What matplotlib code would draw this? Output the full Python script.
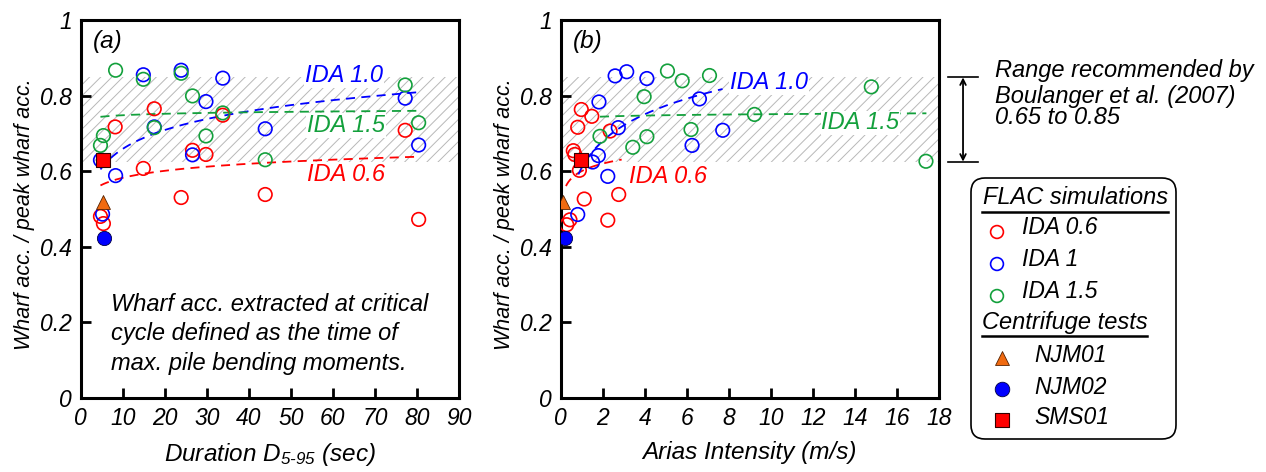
import numpy as np
import matplotlib
matplotlib.use("Agg")
import matplotlib.pyplot as plt
from matplotlib.patches import FancyBboxPatch

plt.rcParams['font.family'] = ['Liberation Sans', 'DejaVu Sans']
plt.rcParams['font.style'] = 'italic'
plt.rcParams['mathtext.fontset'] = 'custom'
plt.rcParams['mathtext.rm'] = 'Liberation Sans:italic'
plt.rcParams['mathtext.it'] = 'Liberation Sans:italic'
plt.rcParams['mathtext.default'] = 'it'
plt.rcParams['hatch.linewidth'] = 0.7
plt.rcParams['hatch.color'] = '#b8b8b8'

RED = '#ff0000'
BLUE = '#0000ff'
GREEN = '#13a03c'
ORANGE = '#f06a10'

# ---- Duration D5-95 (sec) vs wharf acc. ratio, FLAC simulations ----
dur_ida06 = [8.2, 17.5, 26.6, 29.8, 33.8, 14.9, 23.9, 43.9, 77.2, 80.4, 4.7, 5.4]
acc_dur_ida06 = [0.717, 0.765, 0.655, 0.644, 0.748, 0.607, 0.530, 0.538, 0.708, 0.472, 0.480, 0.461]
dur_ida10 = [14.9, 23.9, 33.8, 29.8, 17.5, 43.9, 77.2, 80.4, 26.6, 8.3, 4.7, 5.2]
acc_dur_ida10 = [0.855, 0.867, 0.846, 0.784, 0.717, 0.712, 0.793, 0.669, 0.643, 0.588, 0.629, 0.486]
dur_ida15 = [8.3, 14.9, 23.9, 26.6, 17.5, 33.8, 29.8, 43.9, 77.2, 80.4, 5.4, 4.7]
acc_dur_ida15 = [0.867, 0.843, 0.859, 0.799, 0.715, 0.754, 0.693, 0.630, 0.828, 0.728, 0.694, 0.668]

# ---- Arias intensity (m/s) vs wharf acc. ratio, FLAC simulations ----
ia_ida06 = [0.98, 1.48, 0.81, 2.35, 0.60, 0.67, 0.89, 1.12, 2.76, 2.24, 0.44, 0.29]
acc_ia_ida06 = [0.763, 0.745, 0.716, 0.706, 0.654, 0.644, 0.602, 0.526, 0.538, 0.470, 0.471, 0.458]
ia_ida10 = [2.59, 3.14, 4.10, 1.82, 6.60, 7.71, 2.74, 6.25, 1.79, 1.52, 2.24, 0.81]
acc_ia_ida10 = [0.852, 0.863, 0.845, 0.783, 0.791, 0.708, 0.715, 0.668, 0.641, 0.624, 0.586, 0.485]
ia_ida15 = [5.08, 5.78, 7.08, 3.97, 14.78, 9.22, 1.87, 4.10, 6.20, 3.43, 17.38]
acc_ia_ida15 = [0.865, 0.839, 0.853, 0.797, 0.823, 0.750, 0.692, 0.691, 0.710, 0.663, 0.626]

# ---- Centrifuge tests (NJM01, NJM02, SMS01) ----
cent_acc = [0.518, 0.424, 0.630]
cent_dur = [5.2, 5.6, 5.4]
cent_ia = [0.12, 0.22, 0.95]

# Logarithmic trend lines: y = a + b*ln(x), drawn between x_start and x_end
trend_dur = {'IDA 0.6': (0.5205, 0.0268, 4.7, 80.4),
             'IDA 1.0': (0.493, 0.072, 4.7, 80.4),
             'IDA 1.5': (0.735, 0.0056, 4.7, 80.4)}
trend_ia = {'IDA 0.6': (0.600, 0.0286, 0.25, 2.9),
            'IDA 1.0': (0.609, 0.102, 0.84, 7.7),
            'IDA 1.5': (0.7415, 0.004, 1.87, 17.4)}

# Recommended range band (Boulanger et al. 2007)
band_low, band_high = 0.625, 0.848

W, H = 1266, 472
fig = plt.figure(figsize=(W / 100, H / 100), dpi=100)
ax_a = fig.add_axes([80.7 / W, 1 - 397.7 / H, 378.3 / W, 377.7 / H])
ax_b = fig.add_axes([560.7 / W, 1 - 397.7 / H, 378.3 / W, 377.7 / H])

dash = (0, (5, 3.5))
circ = dict(s=95, facecolors='none', linewidths=1.2, zorder=4)


def style_axes(ax, xmax, xstep, xlabel, tag):
    ax.set_xlim(0, xmax)
    ax.set_ylim(0, 1)
    ax.set_xticks(np.arange(0, xmax + xstep / 2, xstep))
    ax.set_yticks([0, 0.2, 0.4, 0.6, 0.8, 1.0])
    ax.set_yticklabels(['0', '0.2', '0.4', '0.6', '0.8', '1'])
    ax.tick_params(direction='in', length=7, width=2, labelsize=16.5, pad=6.5)
    for sp in ax.spines.values():
        sp.set_linewidth(2.2)
    ax.set_xlabel(xlabel, fontsize=17.5)
    ax.xaxis.set_label_coords(0.5, -0.115)
    ax.set_ylabel('Wharf acc. / peak wharf acc.', fontsize=15.5)
    ax.yaxis.set_label_coords(-0.122, 0.485)
    ax.axhspan(band_low, band_high, facecolor='none', hatch='///', linewidth=0, zorder=0)
    ax.text(0.033, 0.942, tag, transform=ax.transAxes, fontsize=17.5, va='center')


def draw_trends(ax, trends, labels):
    colors = {'IDA 0.6': RED, 'IDA 1.0': BLUE, 'IDA 1.5': GREEN}
    for key, (a, b, x0, x1) in trends.items():
        x = np.linspace(x0, x1, 200)
        ax.plot(x, a + b * np.log(x), ls=dash, lw=1.3, color=colors[key], zorder=2)
    for key, (lx, ly) in labels.items():
        ax.text(lx, ly, key, color=colors[key], fontsize=17, va='center', zorder=3,
                bbox=dict(facecolor='white', edgecolor='none', pad=0.5))


def draw_centrifuge(ax, xs):
    ax.scatter(xs[0], cent_acc[0], marker='^', s=100, color=ORANGE, edgecolors='#552200', linewidths=0.6, zorder=5)
    ax.scatter(xs[1], cent_acc[1], marker='o', s=105, color=BLUE, edgecolors='#000044', linewidths=0.6, zorder=5)
    ax.scatter(xs[2], cent_acc[2], marker='s', s=100, color=RED, edgecolors='#330000', linewidths=0.8, zorder=6)


# (a) duration
style_axes(ax_a, 90, 10, r'Duration D$_{5\text{-}95}$ (sec)', '(a)')
draw_trends(ax_a, trend_dur, {'IDA 1.0': (53.4, 0.853), 'IDA 1.5': (53.8, 0.721), 'IDA 0.6': (53.8, 0.591)})
ax_a.scatter(dur_ida06, acc_dur_ida06, edgecolors=RED, **circ)
ax_a.scatter(dur_ida10, acc_dur_ida10, edgecolors=BLUE, **circ)
ax_a.scatter(dur_ida15, acc_dur_ida15, edgecolors=GREEN, **circ)
draw_centrifuge(ax_a, cent_dur)
ax_a.text(0.079, 0.169, 'Wharf acc. extracted at critical\ncycle defined as the time of\nmax. pile bending moments.',
          transform=ax_a.transAxes, fontsize=17, va='center', linespacing=1.35)

# (b) Arias intensity
style_axes(ax_b, 18, 2, 'Arias Intensity (m/s)', '(b)')
draw_trends(ax_b, trend_ia, {'IDA 1.0': (8.05, 0.835), 'IDA 1.5': (12.4, 0.728), 'IDA 0.6': (3.25, 0.586)})
ax_b.scatter(ia_ida06, acc_ia_ida06, edgecolors=RED, **circ)
ax_b.scatter(ia_ida10, acc_ia_ida10, edgecolors=BLUE, **circ)
ax_b.scatter(ia_ida15, acc_ia_ida15, edgecolors=GREEN, **circ)
draw_centrifuge(ax_b, cent_ia)

# Range bracket right of panel (b)
tr = ax_b.get_yaxis_transform()
for yv in (band_low, band_high):
    ax_b.plot([1.024, 1.103], [yv, yv], color='black', lw=1.2, transform=tr, clip_on=False)
ax_b.annotate('', xy=(1.0635, band_high), xytext=(1.0635, band_low), xycoords=tr, textcoords=tr,
              arrowprops=dict(arrowstyle='<->', lw=1.3, color='black', shrinkA=0, shrinkB=0))

# Overlay in pixel coordinates for the note and the legend box
ov = fig.add_axes([0, 0, 1, 1])
ov.set_xlim(0, W)
ov.set_ylim(H, 0)
ov.axis('off')
ov.text(995, 70, 'Range recommended by', fontsize=17, va='center')
ov.text(995, 97, 'Boulanger et al. (2007)', fontsize=17, va='center')
ov.text(995, 118, '0.65 to 0.85', fontsize=17, va='center')

ov.add_patch(FancyBboxPatch((971, 178), 205, 261, boxstyle='round,pad=0,rounding_size=14',
                            facecolor='white', edgecolor='black', lw=1.2))
ov.text(983, 198, 'FLAC simulations', fontsize=17, va='center')
ov.plot([982, 1168], [212, 212], color='black', lw=1.8)
for yy, name, col in [(228, 'IDA 0.6', RED), (260, 'IDA 1', BLUE), (292, 'IDA 1.5', GREEN)]:
    ov.scatter(997, yy + 4, s=85, facecolors='none', edgecolors=col, linewidths=1.2)
    ov.text(1022, yy, name, fontsize=16.5, va='center')
ov.text(982, 323, 'Centrifuge tests', fontsize=17, va='center')
ov.plot([982, 1147], [336, 336], color='black', lw=1.8)
ov.scatter(1002, 358, marker='^', s=100, color=ORANGE, edgecolors='#552200', linewidths=0.6)
ov.scatter(1002, 389, marker='o', s=110, color=BLUE, edgecolors='#000044', linewidths=0.6)
ov.scatter(1002, 420, marker='s', s=100, color=RED, edgecolors='#330000', linewidths=0.8)
for yy, name in [(355, 'NJM01'), (387, 'NJM02'), (418, 'SMS01')]:
    ov.text(1034, yy, name, fontsize=16.5, va='center')

fig.savefig('out.png', dpi=100)
